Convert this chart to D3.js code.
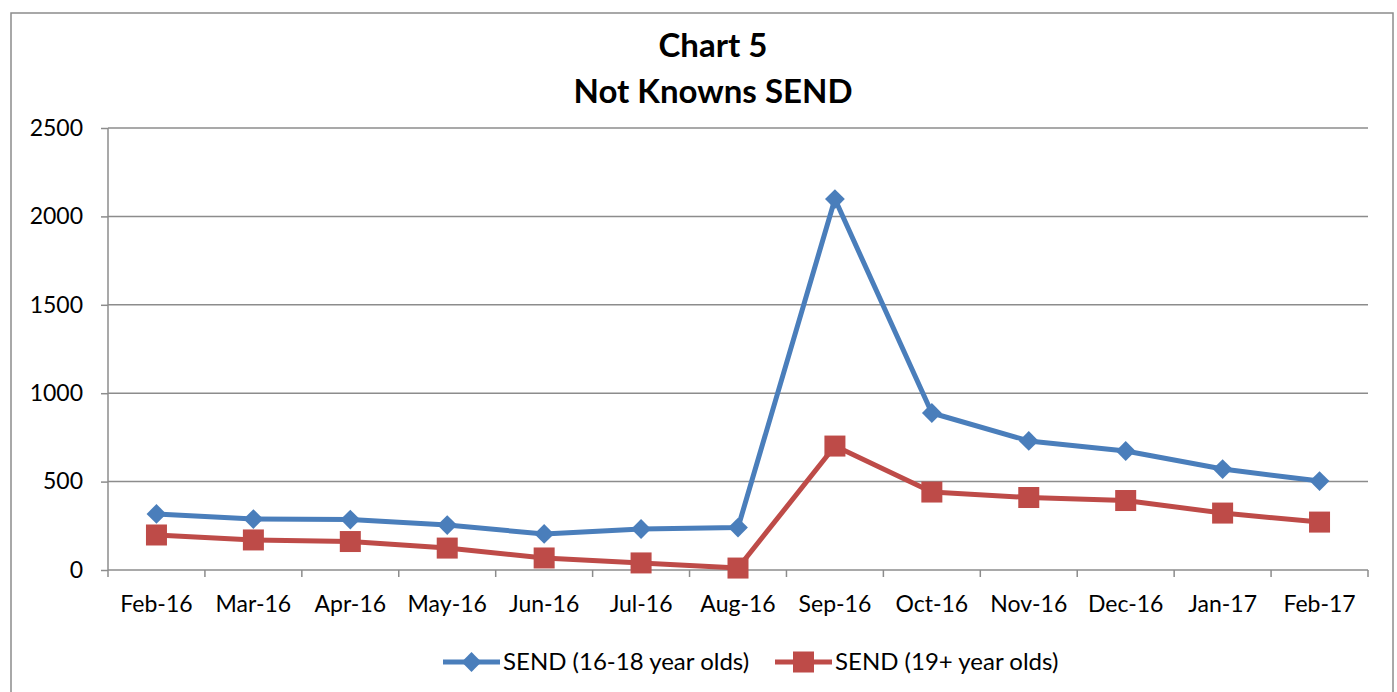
<!DOCTYPE html>
<html><head><meta charset="utf-8">
<script src="https://cdn.jsdelivr.net/npm/d3@7"></script>
<style>body{margin:0;background:#fff;}svg{display:block;font-family:Lato,"Open Sans",sans-serif;}</style>
</head><body><svg id="c" width="1397" height="692"></svg>
<script>
const categories = ["Feb-16","Mar-16","Apr-16","May-16","Jun-16","Jul-16","Aug-16","Sep-16","Oct-16","Nov-16","Dec-16","Jan-17","Feb-17"];
const send1618 = [317, 288, 285, 254, 204, 232, 240, 2098, 888, 730, 673, 571, 503];
const send19 = [198, 170, 161, 124, 68, 40, 11, 701, 441, 410, 393, 322, 271];
const yTicks = [0, 500, 1000, 1500, 2000, 2500];
const seriesNames = ["SEND (16-18 year olds)", "SEND (19+ year olds)"];
const titleLines = ["Chart 5", "Not Knowns SEND"];

const svg = d3.select("#c");
svg.append("rect").attr("x",11).attr("y",13).attr("width",1382).attr("height",700)
  .attr("fill","none").attr("stroke","#8c8c8c").attr("stroke-width",1.5);

const L=108, R=1368, T=128, B=570;
const x = d3.scaleBand().domain(categories).range([L,R]);
const y = d3.scaleLinear().domain([0,2500]).range([B,T]);
const FONT = "Lato,'Open Sans',sans-serif";

svg.append("g").selectAll("line").data(yTicks.filter(d=>d>0)).join("line")
  .attr("x1",L).attr("x2",R).attr("y1",d=>y(d)).attr("y2",d=>y(d))
  .attr("stroke","#8c8c8c").attr("stroke-width",1.5);

const ya = svg.append("g").attr("transform",`translate(${L},0)`)
  .call(d3.axisLeft(y).tickValues(yTicks).tickSize(7).tickPadding(18).tickFormat(d3.format("d")));
ya.select(".domain").attr("stroke","#8c8c8c").attr("stroke-width",1.5).attr("d",`M0,${T}V${B}`);
ya.selectAll(".tick line").attr("stroke","#8c8c8c").attr("stroke-width",1.5);
ya.selectAll("text").attr("font-size",23).attr("fill","#000").attr("font-family",FONT);

const xa = svg.append("g").attr("transform",`translate(0,${B})`)
  .call(d3.axisBottom(x).tickSize(0).tickPadding(26));
xa.select(".domain").attr("stroke","#8c8c8c").attr("stroke-width",1.5).attr("d",`M${L},0H${R}`);
xa.selectAll("text").attr("font-size",23).attr("fill","#000").attr("font-family",FONT);
const bounds = categories.map(c=>x(c)).concat([R]);
svg.append("g").selectAll("line").data(bounds).join("line")
  .attr("x1",d=>d).attr("x2",d=>d).attr("y1",B).attr("y2",B+7)
  .attr("stroke","#8c8c8c").attr("stroke-width",1.5);

const cx = c => x(c)+x.bandwidth()/2;
const line = d3.line().x((d,i)=>cx(categories[i])).y(d=>y(d));

const blue="#4a7ebb", red="#be4b48";
svg.append("path").datum(send1618).attr("d",line).attr("fill","none").attr("stroke",blue).attr("stroke-width",5).attr("stroke-linejoin","round");
svg.append("path").datum(send19).attr("d",line).attr("fill","none").attr("stroke",red).attr("stroke-width",5).attr("stroke-linejoin","round");

const diamondPath = d3.symbol().type(d3.symbolSquare).size(196);
svg.append("g").selectAll("path").data(send1618).join("path")
  .attr("d",diamondPath)
  .attr("transform",(d,i)=>`translate(${cx(categories[i])},${y(d)}) rotate(45)`)
  .attr("fill",blue);
svg.append("g").selectAll("rect").data(send19).join("rect")
  .attr("x",(d,i)=>cx(categories[i])-10.5).attr("y",d=>y(d)-10.5).attr("width",21).attr("height",21)
  .attr("fill",red);

svg.append("g").selectAll("text").data(titleLines).join("text")
  .attr("x",713).attr("y",(d,i)=>57+i*46).attr("text-anchor","middle")
  .attr("font-size",33).attr("font-weight","bold").attr("fill","#000").text(d=>d);

const leg = [{name:seriesNames[0],color:blue,x0:443,type:"d"},{name:seriesNames[1],color:red,x0:775,type:"s"}];
const lg = svg.append("g");
leg.forEach(l=>{
  lg.append("line").attr("x1",l.x0).attr("x2",l.x0+57).attr("y1",662).attr("y2",662).attr("stroke",l.color).attr("stroke-width",5);
  if(l.type==="d"){
    lg.append("path").attr("d",diamondPath).attr("transform",`translate(${l.x0+28.5},662) rotate(45)`).attr("fill",l.color);
  } else {
    lg.append("rect").attr("x",l.x0+18).attr("y",651.5).attr("width",21).attr("height",21).attr("fill",l.color);
  }
  lg.append("text").attr("x",l.x0+60).attr("y",670).attr("font-size",24).attr("fill","#000").text(l.name);
});
</script></body></html>
